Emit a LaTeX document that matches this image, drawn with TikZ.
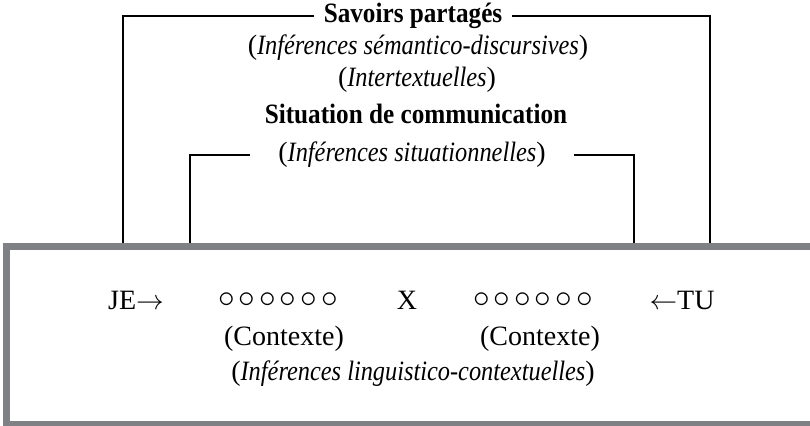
\documentclass[tikz,border=0pt]{standalone}
\usepackage{fontspec}
\setmainfont{Liberation Serif}[
  ItalicFeatures={FakeStretch=0.87},
  BoldFeatures={FakeStretch=0.9}]
\usepackage{tikz}
\definecolor{boxgray}{RGB}{128,129,133}

\begin{document}
\begin{tikzpicture}[x=0.75pt,y=0.75pt,yscale=-1,xscale=1,
    txt/.style={inner sep=0.75pt,font=\fontsize{21}{25}\selectfont},
    head/.style={txt,font=\fontsize{21}{25}\selectfont\bfseries},
    ronds/.style={inner sep=0.75pt,font=\fontsize{33}{36}\selectfont},
    bracket/.style={line width=0.8pt},
    frame/.style={draw=boxgray,line width=5.25pt}]
  \useasboundingbox (0,0) rectangle (810,425);
  %Feet of the brackets, on the top of the frame
  \coordinate (outerL) at (123,246);
  \coordinate (outerR) at (710,246);
  \coordinate (innerL) at (190,246);
  \coordinate (innerR) at (634,246);

  % Text Node
  \node[head,inner xsep=7pt] (savoirs) at (413,16) {Savoirs partagés};
  % Text Node
  \node[txt] (semantico) at (418,48) {(\textit{Inférences sémantico-discursives})};
  % Text Node
  \node[txt] (intertext) at (417,80) {(\textit{Intertextuelles})};
  % Text Node
  \node[head] (situation) at (416,114) {Situation de communication};
  % Text Node
  \node[txt,inner xsep=21pt] (situationnel) at (412,155) {(\textit{Inférences situationnelles})};

  %Straight Lines: outer bracket
  \draw[bracket] (savoirs.west) -| (outerL);
  \draw[bracket] (savoirs.east) -| (outerR);
  %Straight Lines: inner bracket
  \draw[bracket] (situationnel.west) -| (innerL);
  \draw[bracket] (situationnel.east) -| (innerR);

  %Shape: Rectangle, open on the right
  \draw[frame] (6.5,246.5) rectangle (830,424);

  % Text Node
  \node[txt] (je) at (136,300) {JE$\rightarrow$};
  % Text Node
  \node[ronds] (ronds1) at (278,300) {${\circ}\hspace{3pt}{\circ}\hspace{3pt}{\circ}\hspace{3pt}{\circ}\hspace{3pt}{\circ}\hspace{3pt}{\circ}$};
  % Text Node
  \node[txt] (x) at (407,300) {X};
  % Text Node
  \node[ronds] (ronds2) at (533,300) {${\circ}\hspace{3pt}{\circ}\hspace{3pt}{\circ}\hspace{3pt}{\circ}\hspace{3pt}{\circ}\hspace{3pt}{\circ}$};
  % Text Node
  \node[txt] (tu) at (682,300) {$\leftarrow$TU};
  % Text Node
  \node[txt] (contexte1) at (284,339) {(Contexte)};
  % Text Node
  \node[txt] (contexte2) at (540,339) {(Contexte)};
  % Text Node
  \node[txt] (linguistico) at (413,374) {(\textit{Inférences linguistico-contextuelles})};
\end{tikzpicture}
\end{document}
